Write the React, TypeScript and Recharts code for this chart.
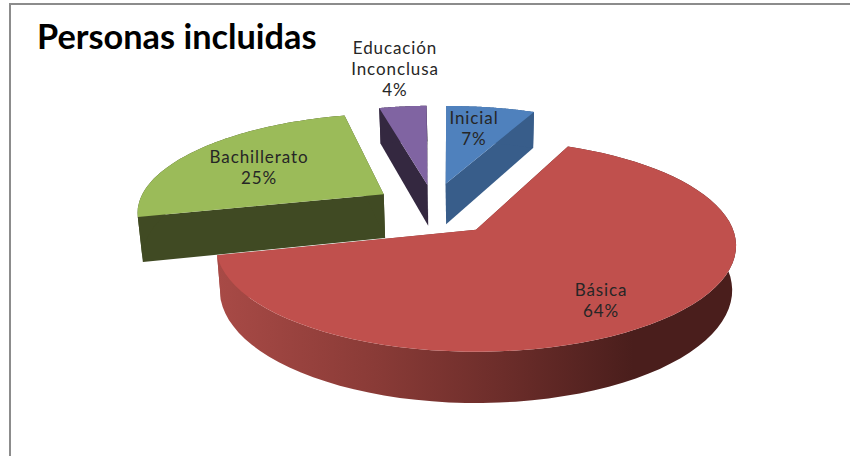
import { PieChart, Pie } from "recharts"

// Values; they round to the printed 25, 4, 7 and 64 %
const categories = ["Bachillerato", "Educación Inconclusa", "Inicial", "Básica"]
const shares = [25.0, 3.6, 6.91, 64.49]

const chartData = categories.map((name, i) => ({ name, value: shares[i] }))

const topColors: Record<string, string> = {
  Bachillerato: "#9BBB59",
  "Educación Inconclusa": "#8064A2",
  Inicial: "#4F81BD",
  Básica: "#C0504D",
}
const wallColors: Record<string, string> = {
  Bachillerato: "#404A23",
  "Educación Inconclusa": "#342840",
  Inicial: "#385D8A",
  Básica: "url(#basicaWall)",
}

// Where each label block is centred
const labelSpots: Record<string, { x: number; y: number; lines: string[] }> = {
  Bachillerato: { x: 259, y: 163, lines: ["Bachillerato"] },
  "Educación Inconclusa": { x: 395, y: 54, lines: ["Educación", "Inconclusa"] },
  Inicial: { x: 474, y: 124, lines: ["Inicial"] },
  Básica: { x: 601, y: 296, lines: ["Básica"] },
}

// Fake 3D: the pie lies on a tilted plane and is projected onto the screen
const TILT = 0.403
const PERSPECTIVE = 0.151
const DEPTH = 43.5
const EXPLODE = 0.26
const BOTTOM_SHRINK = 0.985
const PIE_CENTER = { u: -0.166, v: 0.2 }

// small per-slice corrections of the drawing, the model is not exact
type Nudge = { u: number; v: number; r: number; spin: number; depth: number }
const noNudge: Nudge = { u: 0, v: 0, r: 1, spin: 0, depth: 0 }
const sliceNudge: Record<string, Partial<Nudge>> = {
  Bachillerato: { u: 0.012, v: 0.02, r: 0.99, spin: -0.7, depth: 2.5 },
  "Educación Inconclusa": { u: -0.002, spin: -1.8 },
  Inicial: { u: -0.012, v: 0.02, r: 0.98, spin: -0.8 },
  Básica: { u: 0.006, spin: -0.8 },
}

type Pt = { x: number; y: number }

function project(cx: number, cy: number, r: number, u: number, v: number): Pt {
  const w = 1 + PERSPECTIVE * v
  return { x: cx + (r * u) / w, y: cy - (r * TILT * v) / w }
}

function lower(cx: number, p: Pt, v: number, extra: number): Pt {
  const w = 1 + PERSPECTIVE * v
  return { x: cx + (p.x - cx) * BOTTOM_SHRINK, y: p.y + (DEPTH + extra) / w }
}

const toPath = (pts: Pt[]) =>
  "M" + pts.map((p) => `${p.x.toFixed(1)},${p.y.toFixed(1)}`).join("L") + "Z"

function Slice3D(props: any) {
  const { cx, cy, outerRadius, startAngle, endAngle, name } = props
  const start = (90 - startAngle) * (Math.PI / 180)
  const end = (90 - endAngle) * (Math.PI / 180)
  const mid = (start + end) / 2
  const nudge = { ...noNudge, ...sliceNudge[name] }
  const spin = nudge.spin * (Math.PI / 180)
  const au = PIE_CENTER.u + EXPLODE * Math.sin(mid) + nudge.u
  const av = PIE_CENTER.v + EXPLODE * Math.cos(mid) + nudge.v

  const steps = 72
  const rim: { u: number; v: number }[] = []
  for (let i = 0; i <= steps; i++) {
    const t = start + spin + ((end - start) * i) / steps
    rim.push({ u: au + nudge.r * Math.sin(t), v: av + nudge.r * Math.cos(t) })
  }
  const apex = project(cx, cy, outerRadius, au, av)
  const apexLow = lower(cx, apex, av, nudge.depth)
  const rimTop = rim.map((q) => project(cx, cy, outerRadius, q.u, q.v))
  const rimLow = rimTop.map((p, i) => lower(cx, p, rim[i].v, nudge.depth))

  const last = rimTop.length - 1
  const wall = wallColors[name]
  return (
    <g>
      <path d={toPath([apex, rimTop[0], rimLow[0], apexLow])} fill={wall} />
      <path d={toPath([apex, rimTop[last], rimLow[last], apexLow])} fill={wall} />
      <path d={toPath([...rimTop, ...[...rimLow].reverse()])} fill={wall} />
      <path d={toPath([apex, ...rimTop])} fill={topColors[name]} />
    </g>
  )
}

function SliceLabel(props: any) {
  const spot = labelSpots[props.name]
  const lines = [...spot.lines, `${Math.round(props.percent * 100)}%`]
  return (
    <text
      x={spot.x}
      textAnchor="middle"
      fontFamily="Lato, sans-serif"
      fontSize={17}
      letterSpacing={0.9}
      fill="#262626"
    >
      {lines.map((line, i) => (
        <tspan key={i} x={spot.x} y={spot.y + i * 21}>
          {line}
        </tspan>
      ))}
    </text>
  )
}

export default function App() {
  return (
    <div style={{ position: "absolute", left: 0, top: 0, width: 850, height: 456, overflow: "hidden", background: "#fff" }}>
      <div
        style={{
          position: "absolute",
          left: 9,
          top: 3,
          width: 860,
          height: 470,
          border: "2px solid #8c8c8c",
        }}
      />
      <div
        style={{
          position: "absolute",
          left: 37,
          top: 16,
          fontFamily: "Lato, sans-serif",
          fontWeight: 700,
          fontSize: 34.3,
          lineHeight: "40px",
          color: "#000",
        }}
      >
        Personas incluidas
      </div>
      <PieChart
        width={850}
        height={456}
        margin={{ top: 0, right: 0, bottom: 0, left: 0 }}
        style={{ position: "absolute", left: 0, top: 0 }}
      >
        <defs>
          <linearGradient id="basicaWall" gradientUnits="userSpaceOnUse" x1="218" y1="0" x2="737" y2="0">
            <stop offset="0" stopColor="#A84A46" />
            <stop offset="0.3" stopColor="#8A3B37" />
            <stop offset="0.55" stopColor="#6C2D2A" />
            <stop offset="0.8" stopColor="#4A1E1C" />
            <stop offset="1" stopColor="#4A1E1C" />
          </linearGradient>
        </defs>
        <Pie
          data={chartData}
          dataKey="value"
          nameKey="name"
          cx={475}
          cy={229.5}
          innerRadius={0}
          outerRadius={257}
          startAngle={-167}
          endAngle={-527}
          stroke="none"
          shape={Slice3D}
          label={SliceLabel}
          labelLine={false}
          isAnimationActive={false}
        />
      </PieChart>
    </div>
  )
}
